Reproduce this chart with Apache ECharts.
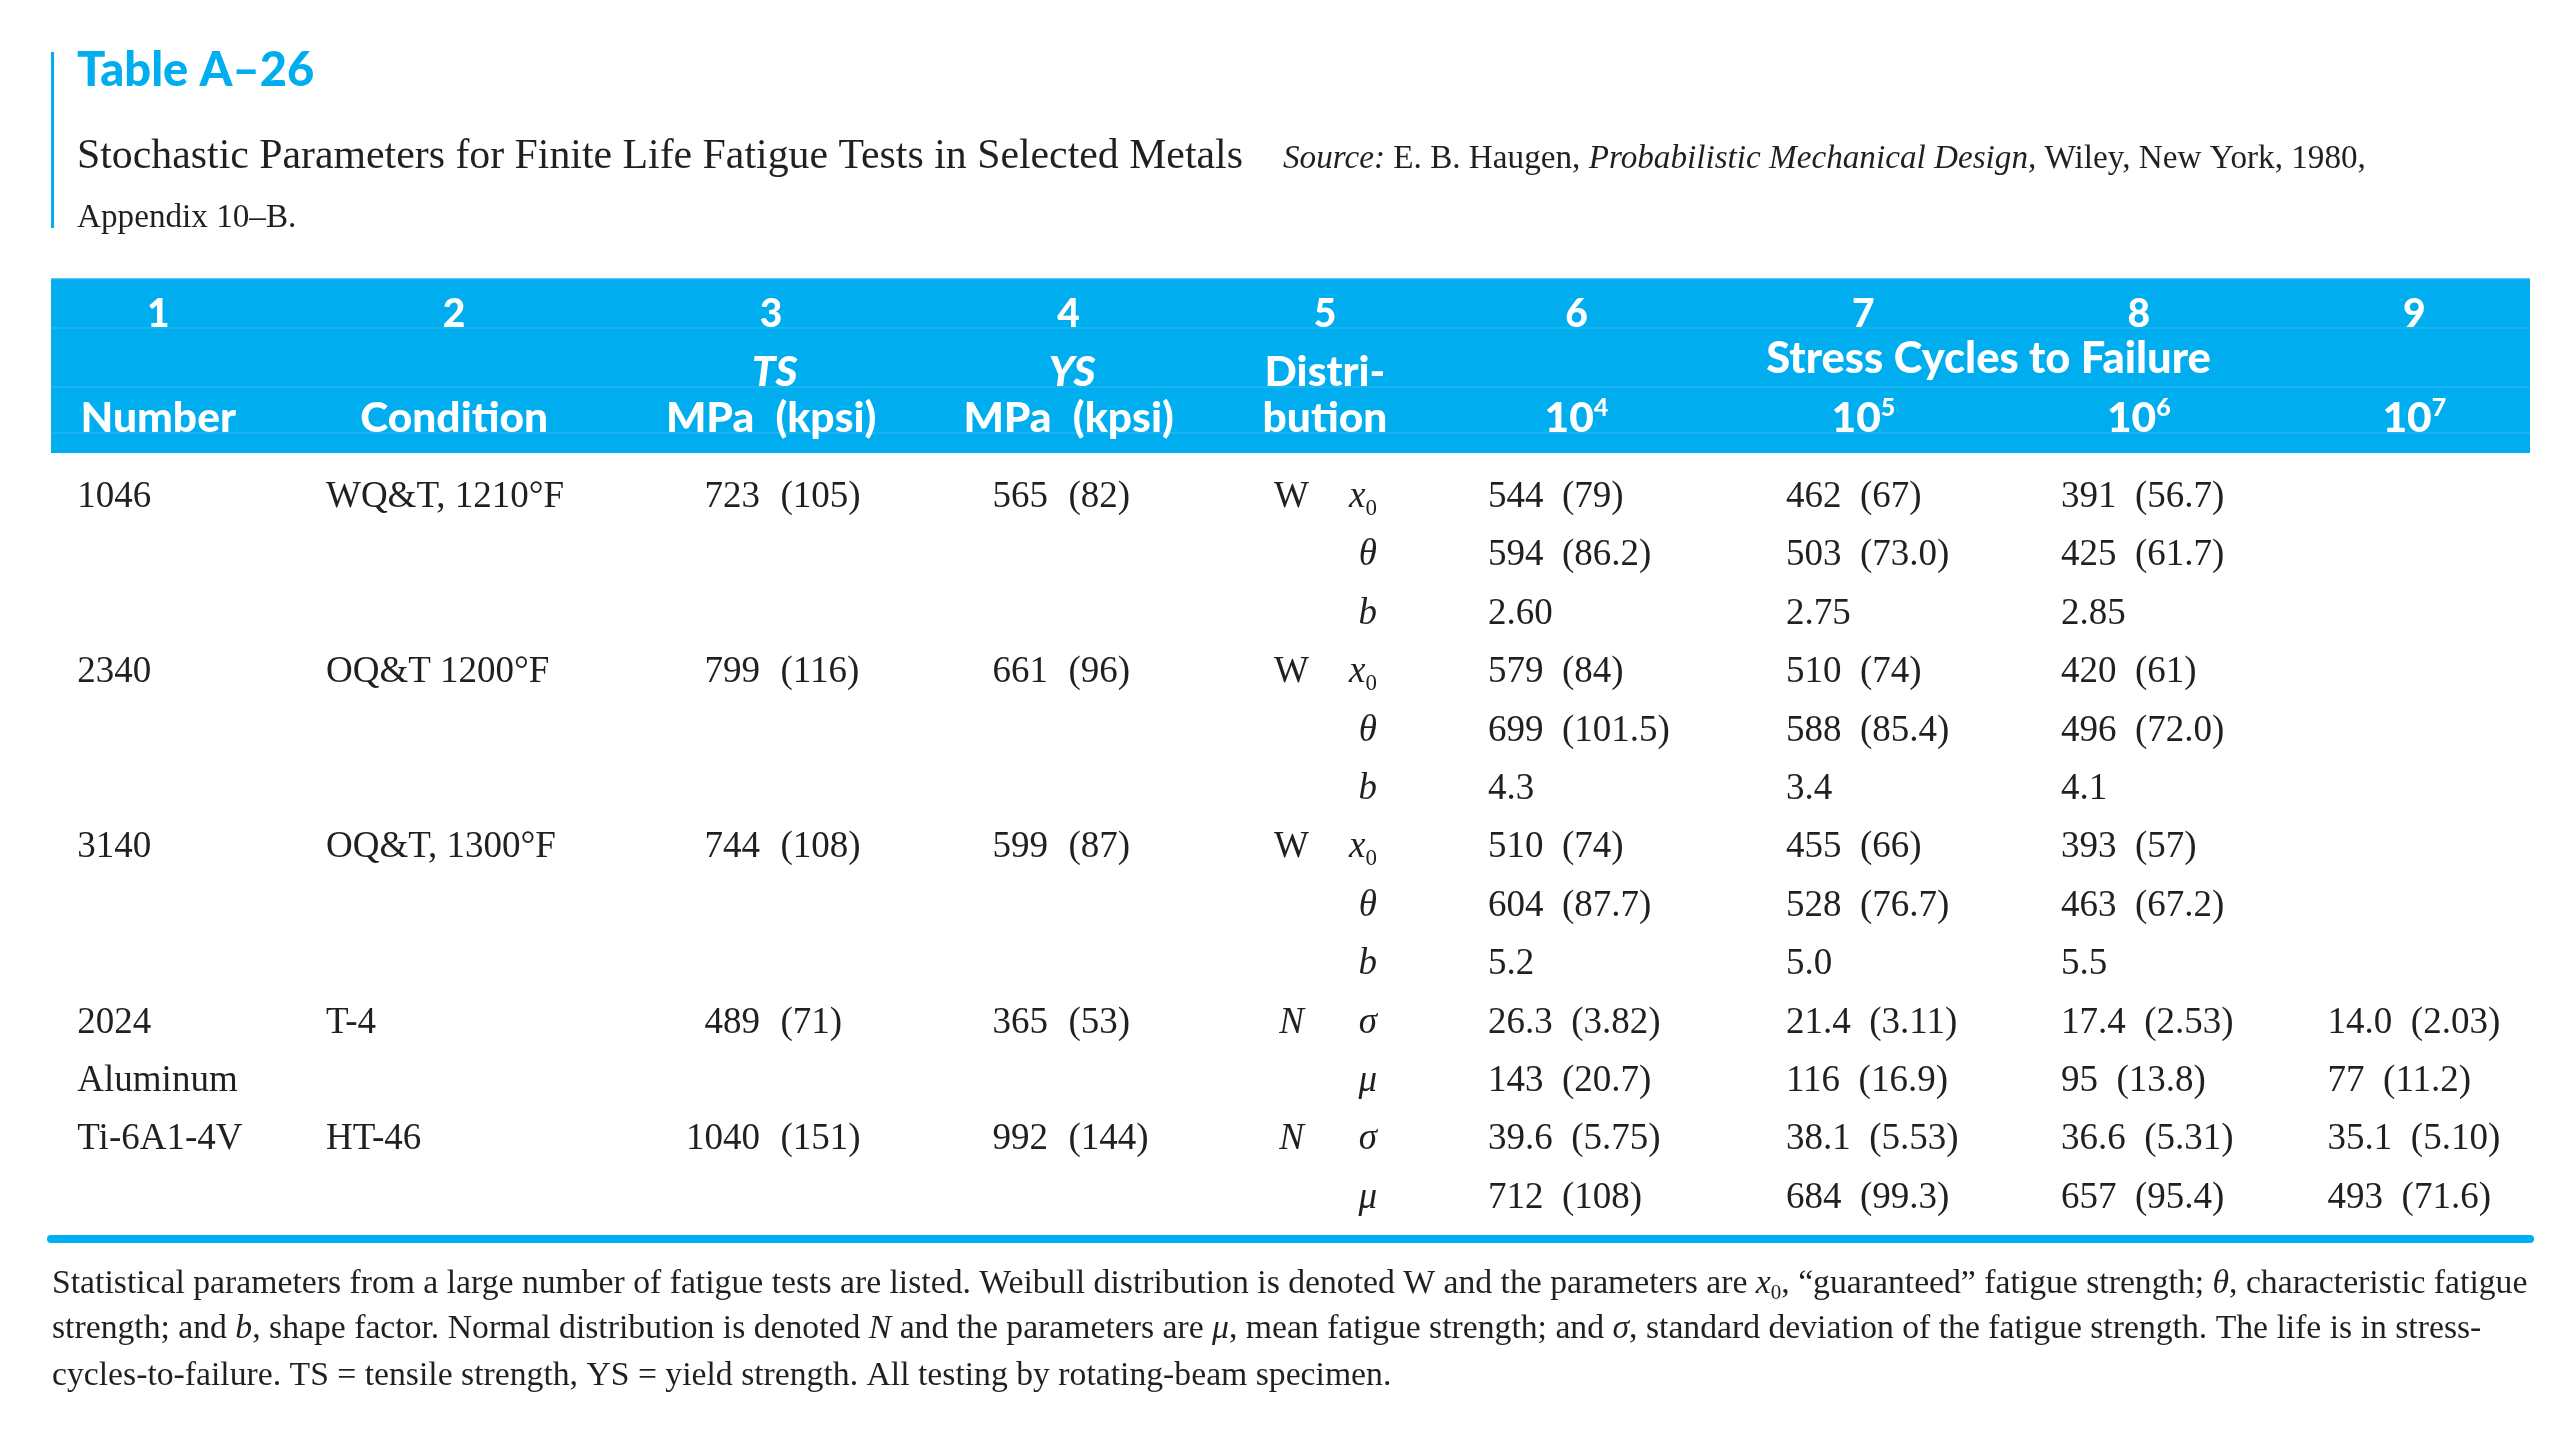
<!DOCTYPE html>
<html>
<head>
<meta charset="utf-8">
<script src="https://cdn.jsdelivr.net/npm/echarts@6/dist/echarts.min.js"></script>
<style>html,body{margin:0;padding:0;background:#fff}#chart{width:2572px;height:1456px}</style>
</head>
<body>
<div id="chart"></div>
<script>
// ---------------- DATA ----------------
const columnNumbers = ['1', '2', '3', '4', '5', '6', '7', '8', '9'];
const headerNames = ['Number', 'Condition', 'MPa\u2002(kpsi)', 'MPa\u2002(kpsi)'];
const strengthSymbols = ['TS', 'YS'];
const distributionHeader = ['Distri-', 'bution'];
const cycleGroupTitle = 'Stress Cycles to Failure';
const cycleExponents = ['4', '5', '6', '7'];

const materialNumbers = ['1046', '2340', '3140', '2024', 'Ti-6A1-4V'];
const materialNotes = ['', '', '', 'Aluminum', ''];
const conditions = ['WQ&T, 1210°F', 'OQ&T 1200°F', 'OQ&T, 1300°F', 'T-4', 'HT-46'];
const tsMPa = [723, 799, 744, 489, 1040];
const tsKpsi = [105, 116, 108, 71, 151];
const ysMPa = [565, 661, 599, 365, 992];
const ysKpsi = [82, 96, 87, 53, 144];
const distributions = ['W', 'W', 'W', 'N', 'N'];
const weibullParams = ['x0', 'θ', 'b'];
const normalParams = ['σ', 'μ'];

const fatigue1046 = [
  ['544 (79)', '462 (67)', '391 (56.7)'],
  ['594 (86.2)', '503 (73.0)', '425 (61.7)'],
  ['2.60', '2.75', '2.85']
];
const fatigue2340 = [
  ['579 (84)', '510 (74)', '420 (61)'],
  ['699 (101.5)', '588 (85.4)', '496 (72.0)'],
  ['4.3', '3.4', '4.1']
];
const fatigue3140 = [
  ['510 (74)', '455 (66)', '393 (57)'],
  ['604 (87.7)', '528 (76.7)', '463 (67.2)'],
  ['5.2', '5.0', '5.5']
];
const fatigue2024 = [
  ['26.3 (3.82)', '21.4 (3.11)', '17.4 (2.53)', '14.0 (2.03)'],
  ['143 (20.7)', '116 (16.9)', '95 (13.8)', '77 (11.2)']
];
const fatigueTi = [
  ['39.6 (5.75)', '38.1 (5.53)', '36.6 (5.31)', '35.1 (5.10)'],
  ['712 (108)', '684 (99.3)', '657 (95.4)', '493 (71.6)']
];
const fatigueByMaterial = [fatigue1046, fatigue2340, fatigue3140, fatigue2024, fatigueTi];

// ---------------- STYLE ----------------
const SERIF = '"Liberation Serif", "Times New Roman", Times, serif';
const SANS = 'Lato, "Open Sans", sans-serif';
const INK = '#231f20';
const CYAN = '#00adee';

const BODY = '37px ' + SERIF;
const BODY_I = 'italic 37px ' + SERIF;
const BODY_SUB = '23px ' + SERIF;
const HEAD = '900 42.5px ' + SANS;
const HEAD_G = '900 43.5px ' + SANS;
const HEAD_I = 'italic 900 42.5px ' + SANS;
const HEAD_NUM = '900 39px ' + SANS;
const HEAD_SUP = '900 25px ' + SANS;

// per-column anchor offsets from band centre (layout only)
const headerDx = [-30.5, -10, 31.5, 53.5, 34.5, 10.5, 22, 22, 22];
const headerRowBase = [19.8, 20.5, 8.2];
const bodyDx = [-111.4, -138.2, 20.4, 32.9, 1, -77.9, -55.4, -55.8, -64.7];
const pairGap = 20.5;
const paramDx = 86.5;
const BODY_BASE = 12;

// ---------------- helpers ----------------
const mctx = document.createElement('canvas').getContext('2d');
function tw(t, font) { mctx.font = font; return mctx.measureText(t).width; }
const midCache = {};
function midOffset(font) {
  if (midCache[font] != null) return midCache[font];
  mctx.font = font;
  mctx.textBaseline = 'alphabetic';
  const a = mctx.measureText('Hg').fontBoundingBoxAscent;
  mctx.textBaseline = 'middle';
  const b = mctx.measureText('Hg').fontBoundingBoxAscent;
  mctx.textBaseline = 'alphabetic';
  return (midCache[font] = a - b);
}
function txt(x, baseline, text, font, fill, align) {
  align = align || 'left';
  return {
    type: 'text', x: x, y: baseline - midOffset(font), silent: true,
    style: { text: text, font: font, fill: fill || INK, align: align, verticalAlign: 'middle', textAlign: align, textVerticalAlign: 'middle' }
  };
}
function segs(x, baseline, parts, align) {
  let total = 0;
  parts.forEach(p => { total += tw(p[0], p[1]); });
  let cx = align === 'center' ? x - total / 2 : align === 'right' ? x - total : x;
  const out = [];
  parts.forEach(p => {
    out.push(txt(cx, baseline + (p[2] || 0), p[0], p[1], p[3] || INK, 'left'));
    cx += tw(p[0], p[1]);
  });
  return out;
}

// ---------------- build cells ----------------
const bodyRowIds = [];
const bodyCells = [];
let r = 0;
materialNumbers.forEach((num, m) => {
  const params = distributions[m] === 'W' ? weibullParams : normalParams;
  const vals = fatigueByMaterial[m];
  bodyCells.push({ col: 0, row: r, kind: 'left', text: num });
  if (materialNotes[m]) bodyCells.push({ col: 0, row: r + 1, kind: 'left', text: materialNotes[m] });
  bodyCells.push({ col: 1, row: r, kind: 'left', text: conditions[m] });
  bodyCells.push({ col: 2, row: r, kind: 'pair', a: String(tsMPa[m]), b: '(' + tsKpsi[m] + ')' });
  bodyCells.push({ col: 3, row: r, kind: 'pair', a: String(ysMPa[m]), b: '(' + ysKpsi[m] + ')' });
  bodyCells.push({ col: 4, row: r, kind: 'dist', text: distributions[m] });
  params.forEach((p, k) => {
    bodyRowIds.push(num + ':' + p);
    bodyCells.push({ col: 4, row: r + k, kind: 'param', text: p });
    vals[k].forEach((v, j) => bodyCells.push({ col: 5 + j, row: r + k, kind: 'left', text: v.replace(' (', '\u2002(') }));
  });
  r += params.length;
});

const headerCells = [];
headerCells.push({ col: 0, row: 0, kind: 'guides' });
columnNumbers.forEach((t, i) => headerCells.push({ col: i, row: 0, kind: 'num', text: t }));
strengthSymbols.forEach((t, i) => headerCells.push({ col: 2 + i, row: 1, kind: 'sym', text: t, dx: [35, 57][i] }));
headerCells.push({ col: 4, row: 1, kind: 'name', text: distributionHeader[0] });
headerCells.push({ col: 4, row: 2, kind: 'name', text: distributionHeader[1] });
headerCells.push({ col: 6, row: 1, kind: 'group', text: cycleGroupTitle });
headerNames.forEach((t, i) => headerCells.push({ col: i, row: 2, kind: 'name', text: t }));
cycleExponents.forEach((e, i) => headerCells.push({ col: 5 + i, row: 2, kind: 'pow', text: '10', exp: e }));

// ---------------- chart ----------------
const chart = echarts.init(document.getElementById('chart'), null, { renderer: 'canvas' });

function renderHeader(params, api) {
  const c = headerCells[params.dataIndex];
  const p = api.coord([c.col, c.row]);
  const cs = params.coordSys;
  const base = p[1] + headerRowBase[c.row];
  let children = [];
  if (c.kind === 'guides') {
    const ys = [cs.y + 0.5];
    for (let k = 0; k < 3; k++) ys.push(api.coord([0, k])[1] + headerRowBase[k] + 1);
    children = ys.map((y, k) => ({
      type: 'line', silent: true,
      shape: { x1: cs.x, y1: y, x2: cs.x + cs.width, y2: y },
      style: { stroke: k === 0 ? 'rgba(255,255,255,0.35)' : 'rgba(255,255,255,0.13)', lineWidth: 1.5 }
    }));
  } else if (c.kind === 'num') {
    children = [txt(p[0] + headerDx[c.col], base, c.text, HEAD_NUM, '#fff', 'center')];
  } else if (c.kind === 'sym') {
    children = [txt(p[0] + c.dx, base, c.text, HEAD_I, '#fff', 'center')];
  } else if (c.kind === 'name') {
    children = [txt(p[0] + headerDx[c.col], base, c.text, HEAD, '#fff', 'center')];
  } else if (c.kind === 'group') {
    children = [txt(p[0] + 147.2, p[1] + 7.5, c.text, HEAD_G, '#fff', 'center')];
  } else if (c.kind === 'pow') {
    children = segs(p[0] + headerDx[c.col], base, [[c.text, HEAD, 0, '#fff'], [c.exp, HEAD_SUP, -16, '#fff']], 'center');
  }
  return { type: 'group', children: children };
}

function renderBody(params, api) {
  const c = bodyCells[params.dataIndex];
  const p = api.coord([c.col, c.row]);
  const base = p[1] + BODY_BASE;
  const x = p[0] + bodyDx[c.col];
  let children = [];
  if (c.kind === 'left') {
    children = [txt(x, base, c.text, BODY, INK, 'left')];
  } else if (c.kind === 'pair') {
    children = [txt(x, base, c.a, BODY, INK, 'right'), txt(x + pairGap, base, c.b, BODY, INK, 'left')];
  } else if (c.kind === 'dist') {
    children = [txt(x, base, c.text, c.text === 'N' ? BODY_I : BODY, INK, 'center')];
  } else if (c.kind === 'param') {
    const px = p[0] + paramDx;
    if (c.text === 'x0') children = segs(px, base, [['x', BODY_I], ['0', BODY_SUB, 8]], 'right');
    else children = [txt(px, base, c.text, BODY_I, INK, 'right')];
  }
  return { type: 'group', children: children };
}

const FN = '33.7px ' + SERIF, FNI = 'italic 33.7px ' + SERIF, FNS = '21px ' + SERIF;
const CAP = '33.2px ' + SERIF, CAPI = 'italic 33.2px ' + SERIF;

const graphicEls = [
  { type: 'rect', silent: true, shape: { x: 51, y: 52, width: 3, height: 176 }, style: { fill: CYAN } },
  txt(77, 86, 'Table A–26', '900 47px ' + SANS, CYAN),
  txt(77, 168, 'Stochastic Parameters for Finite Life Fatigue Tests in Selected Metals', '41.8px ' + SERIF, INK),
  ...segs(1283, 168, [['Source:', CAPI], [' E. B. Haugen, ', CAP], ['Probabilistic Mechanical Design,', CAPI], [' Wiley, New York, 1980,', CAP]]),
  txt(77, 227, 'Appendix 10–B.', CAP, INK),
  ...segs(52, 1293, [
    ['Statistical parameters from a large number of fatigue tests are listed. Weibull distribution is denoted W and the parameters are ', FN],
    ['x', FNI], ['0', FNS, 6], [', “guaranteed” fatigue strength; ', FN], ['θ', FNI], [', characteristic fatigue', FN]]),
  ...segs(52, 1338, [
    ['strength; and ', FN], ['b', FNI], [', shape factor. Normal distribution is denoted ', FN], ['N', FNI],
    [' and the parameters are ', FN], ['μ', FNI], [', mean fatigue strength; and ', FN], ['σ', FNI],
    [', standard deviation of the fatigue strength. The life is in stress-', FN]]),
  ...segs(52, 1385, [['cycles-to-failure. TS = tensile strength, YS = yield strength. All testing by rotating-beam specimen.', FN]])
];

chart.setOption({
  animation: false,
  backgroundColor: '#ffffff',
  grid: [
    { left: 51, right: 42, top: 278, height: 175, show: true, backgroundColor: CYAN, borderWidth: 0 },
    { left: 51, right: 42, top: 465.8, height: 759.2, show: false }
  ],
  xAxis: [
    { type: 'category', gridIndex: 0, data: columnNumbers, show: false },
    { type: 'category', gridIndex: 1, data: columnNumbers, position: 'bottom', offset: 14,
      axisLine: { show: true, onZero: false, lineStyle: { color: CYAN, width: 8 } },
      axisTick: { show: false }, axisLabel: { show: false }, splitLine: { show: false } }
  ],
  yAxis: [
    { type: 'category', gridIndex: 0, data: ['numbers', 'labels', 'units'], inverse: true, show: false },
    { type: 'category', gridIndex: 1, data: bodyRowIds, inverse: true, show: false }
  ],
  graphic: { elements: graphicEls },
  series: [
    { type: 'custom', xAxisIndex: 0, yAxisIndex: 0, clip: false, silent: true,
      data: headerCells.map(c => [c.col, c.row]), renderItem: renderHeader },
    { type: 'custom', xAxisIndex: 1, yAxisIndex: 1, clip: false, silent: true,
      data: bodyCells.map(c => [c.col, c.row]), renderItem: renderBody }
  ]
});
</script>
</body>
</html>
